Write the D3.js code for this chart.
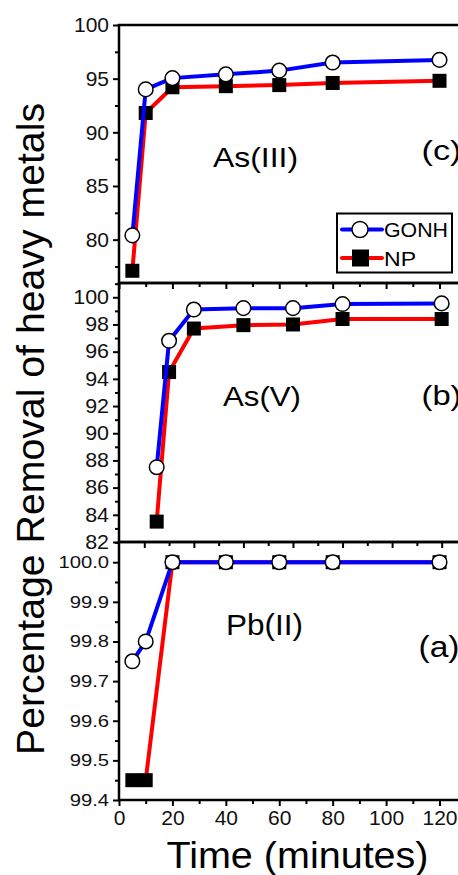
<!DOCTYPE html>
<html>
<head>
<meta charset="utf-8">
<script src="https://cdn.jsdelivr.net/npm/d3@7"></script>
<style>
  body { margin: 0; background: #fff; }
  svg { display: block; font-family: "Liberation Sans", Arial, sans-serif; }
</style>
</head>
<body>
<svg id="chart" width="458" height="875"></svg>
<script>
// sampling times (minutes), same for every panel
const timeMin = [5, 10, 20, 40, 60, 80, 120];

// (c) As(III)
const asIII_GONH = [80.4, 94.0, 95.05, 95.4, 95.75, 96.5, 96.75];
const asIII_NP   = [77.1, 91.8, 94.2, 94.3, 94.4, 94.6, 94.8];
// (b) As(V)
const asV_GONH = [87.5, 96.8, 99.1, 99.2, 99.2, 99.5, 99.55];
const asV_NP   = [83.5, 94.5, 97.7, 97.95, 98.0, 98.4, 98.4];
// (a) Pb(II)
const pb_GONH = [99.75, 99.8, 100, 100, 100, 100, 100];
const pb_NP   = [99.45, 99.45, 100, 100, 100, 100, 100];

// tick values
const xTicksMajor = [0, 20, 40, 60, 80, 100, 120];
const xTicksMinor = [10, 30, 50, 70, 90, 110];
const yTicksC = [80, 85, 90, 95, 100];
const yMinorC = [77.5, 82.5, 87.5, 92.5, 97.5];
const yTicksB = [82, 84, 86, 88, 90, 92, 94, 96, 98, 100];
const yMinorB = [83, 85, 87, 89, 91, 93, 95, 97, 99, 101];
const yTicksA = [99.4, 99.5, 99.6, 99.7, 99.8, 99.9, 100.0];
const yMinorA = [99.45, 99.55, 99.65, 99.75, 99.85, 99.95, 100.05];

const seriesNames = ["GONH", "NP"];
const BLUE = "#0000ff", RED = "#ff0000";
const FONT = "'Liberation Sans', Arial, sans-serif";

const svg = d3.select("#chart");
const left = 119, right = 470;

// top and bottom panels share one x scale, middle panel was scaled differently
const xOuter = d3.scaleLinear().domain([0, 130]).range([119, 119 + 130 * 2.671]);
const xMid = d3.scaleLinear().domain([-10, 130]).range([144.3 - 24.78, 144.3 + 130 * 2.478]);

const panels = [
  { top: 25, bottom: 283, dom: [75.96, 100], ticks: yTicksC, minor: yMinorC, fmt: d3.format("d"),
    fs: 21, sx: 1.0, x: xOuter, gonh: asIII_GONH, np: asIII_NP,
    name: "As(III)", nx: 213, ny: 167, nfs: 28, nlen: 85,
    tag: "(c)", tx: 421.5, ty: 160, tfs: 28, tlen: 40, legend: true },
  { top: 283, bottom: 542, dom: [82, 101.05], ticks: yTicksB, minor: yMinorB, fmt: d3.format("d"),
    fs: 19.5, sx: 1.1, x: xMid, gonh: asV_GONH, np: asV_NP,
    name: "As(V)", nx: 223, ny: 406, nfs: 27, nlen: 78,
    tag: "(b)", tx: 421.5, ty: 405, tfs: 28, tlen: 40 },
  { top: 542, bottom: 800, dom: [99.4, 100.051], ticks: yTicksA, minor: yMinorA, fmt: d3.format(".1f"),
    fs: 17, sx: 1.19, x: xOuter, gonh: pb_GONH, np: pb_NP,
    name: "Pb(II)", nx: 226, ny: 635, nfs: 30, nlen: 77,
    tag: "(a)", tx: 418.5, ty: 657, tfs: 30, tlen: 41, xLabels: true }
];

function drawPanel(p) {
  const y = d3.scaleLinear().domain(p.dom).range([p.bottom, p.top]);
  const g = svg.append("g");

  // y axis ticks (outward)
  const ya = g.append("g").attr("transform", `translate(${left},0)`)
    .call(d3.axisLeft(y).tickValues(p.ticks).tickFormat(p.fmt).tickSize(6).tickPadding(4));
  ya.attr("font-family", FONT);
  ya.select(".domain").remove();
  ya.selectAll("line").attr("stroke", "#000").attr("stroke-width", 2);
  ya.selectAll("text")
    .attr("font-size", p.fs).attr("fill", "#111")
    .attr("x", -10 / p.sx)
    .attr("transform", `scale(${p.sx},1)`);
  const ym = g.append("g").attr("transform", `translate(${left},0)`)
    .call(d3.axisLeft(y).tickValues(p.minor).tickFormat("").tickSize(4));
  ym.select(".domain").remove();
  ym.selectAll("line").attr("stroke", "#000").attr("stroke-width", 2);

  // x axis ticks at the bottom edge (pointing down)
  const xa = g.append("g").attr("transform", `translate(0,${p.bottom})`)
    .call(d3.axisBottom(p.x).tickValues(xTicksMajor)
      .tickFormat(p.xLabels ? d3.format("d") : "").tickSize(6).tickPadding(4));
  xa.attr("font-family", FONT);
  xa.select(".domain").remove();
  xa.selectAll("line").attr("stroke", "#000").attr("stroke-width", 2);
  xa.selectAll("text").attr("font-size", 21).attr("fill", "#111");
  const xm = g.append("g").attr("transform", `translate(0,${p.bottom})`)
    .call(d3.axisBottom(p.x).tickValues(xTicksMinor).tickFormat("").tickSize(4));
  xm.select(".domain").remove();
  xm.selectAll("line").attr("stroke", "#000").attr("stroke-width", 2);

  // frame
  g.append("rect")
    .attr("x", left).attr("y", p.top)
    .attr("width", right - left).attr("height", p.bottom - p.top)
    .attr("fill", "none").attr("stroke", "#000").attr("stroke-width", 2.5);

  const line = d3.line().x((d, i) => p.x(timeMin[i])).y(d => y(d));

  // NP first, GONH on top
  g.append("path").datum(p.np)
    .attr("d", line).attr("fill", "none")
    .attr("stroke", RED).attr("stroke-width", 4).attr("stroke-linejoin", "round");
  g.selectAll(".sq").data(p.np).enter().append("rect")
    .attr("x", (d, i) => p.x(timeMin[i]) - 7)
    .attr("y", d => y(d) - 7)
    .attr("width", 14).attr("height", 14)
    .attr("fill", "#000");

  g.append("path").datum(p.gonh)
    .attr("d", line).attr("fill", "none")
    .attr("stroke", BLUE).attr("stroke-width", 4).attr("stroke-linejoin", "round");
  g.selectAll(".ci").data(p.gonh).enter().append("circle")
    .attr("cx", (d, i) => p.x(timeMin[i]))
    .attr("cy", d => y(d))
    .attr("r", 7.3)
    .attr("fill", "#fff").attr("stroke", "#000").attr("stroke-width", 1.5);

  // labels
  g.append("text")
    .attr("x", p.nx).attr("y", p.ny)
    .attr("font-size", p.nfs)
    .attr("textLength", p.nlen).attr("lengthAdjust", "spacingAndGlyphs")
    .text(p.name);
  g.append("text")
    .attr("x", p.tx).attr("y", p.ty)
    .attr("font-size", p.tfs)
    .attr("textLength", p.tlen).attr("lengthAdjust", "spacingAndGlyphs")
    .text(p.tag);

  if (p.legend) {
    const lg = g.append("g");
    lg.append("rect").attr("x", 337).attr("y", 213.5).attr("width", 115).attr("height", 59)
      .attr("fill", "#fff").attr("stroke", "#000").attr("stroke-width", 2);
    const rows = [{ y: 229.5, c: BLUE }, { y: 258, c: RED }];
    rows.forEach((r, i) => {
      lg.append("line").attr("x1", 342).attr("x2", 382).attr("y1", r.y).attr("y2", r.y)
        .attr("stroke", r.c).attr("stroke-width", 4).attr("stroke-linecap", "round");
      if (i === 0) {
        lg.append("circle").attr("cx", 360).attr("cy", r.y).attr("r", 8)
          .attr("fill", "#fff").attr("stroke", "#000").attr("stroke-width", 1.5);
      } else {
        lg.append("rect").attr("x", 352).attr("y", r.y - 8.5).attr("width", 17).attr("height", 17)
          .attr("fill", "#000");
      }
      lg.append("text").attr("x", 384).attr("y", r.y + 7.5)
        .attr("font-size", 20)
        .attr("textLength", i === 0 ? 64 : 32).attr("lengthAdjust", "spacingAndGlyphs")
        .text(seriesNames[i]);
    });
  }
}

panels.forEach(drawPanel);

// axis titles
svg.append("text")
  .attr("transform", "translate(43.5,429) rotate(-90)")
  .attr("text-anchor", "middle")
  .attr("font-size", 38)
  .attr("textLength", 652).attr("lengthAdjust", "spacingAndGlyphs")
  .text("Percentage Removal of heavy metals");

svg.append("text")
  .attr("x", 297.5).attr("y", 868)
  .attr("text-anchor", "middle")
  .attr("font-size", 37)
  .attr("textLength", 262).attr("lengthAdjust", "spacingAndGlyphs")
  .text("Time (minutes)");
</script>
</body>
</html>
